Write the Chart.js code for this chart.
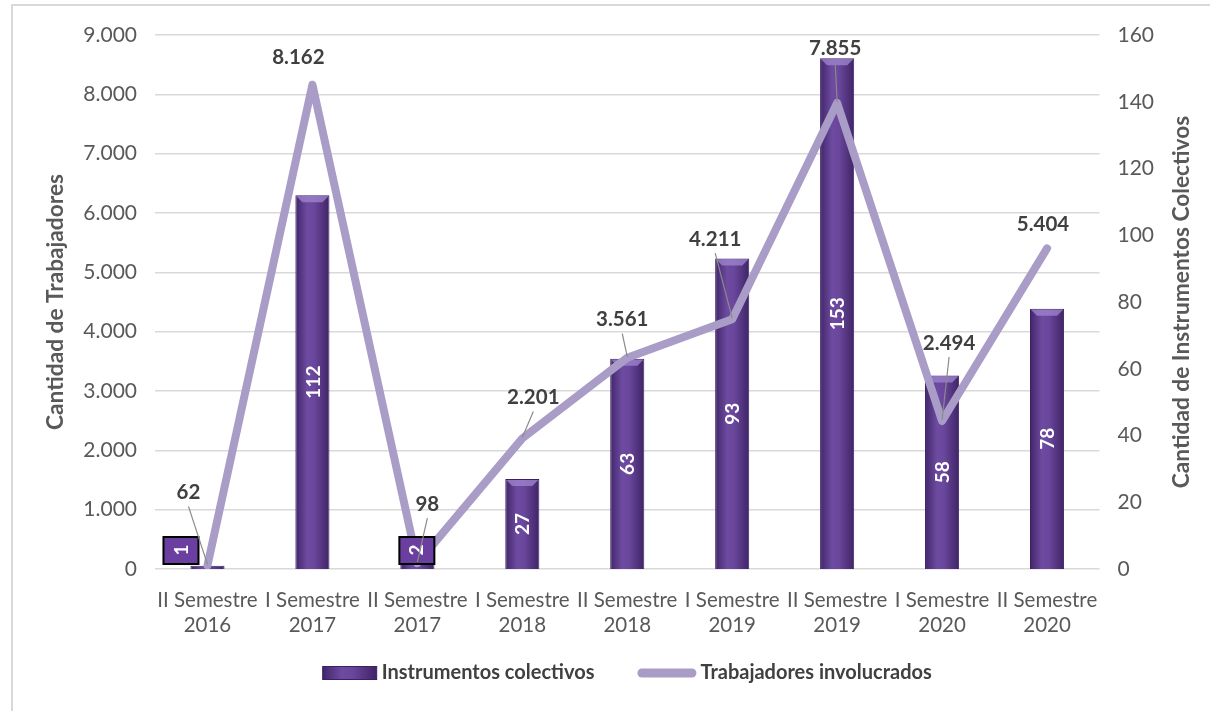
<!DOCTYPE html>
<html>
<head>
<meta charset="utf-8">
<script src="https://cdn.jsdelivr.net/npm/chart.js@4"></script>
<style>
  html, body { margin: 0; padding: 0; background: #fff; overflow: hidden; }
  #wrap { position: relative; width: 1210px; height: 711px; }
  #frame { position: absolute; left: 11px; top: 4px; width: 1300px; height: 800px; border: 2px solid #d9d9d9; }
  canvas { position: absolute; left: 0; top: 0; }
</style>
</head>
<body>
<div id="wrap">
  <div id="frame"></div>
  <canvas id="chart" width="1210" height="711"></canvas>
</div>
<script>
// ===================== DATA =====================
const periodos = [
  ["II Semestre", "2016"], ["I Semestre", "2017"], ["II Semestre", "2017"],
  ["I Semestre", "2018"], ["II Semestre", "2018"], ["I Semestre", "2019"],
  ["II Semestre", "2019"], ["I Semestre", "2020"], ["II Semestre", "2020"]
];
const instrumentos = [1, 112, 2, 27, 63, 93, 153, 58, 78];
const trabajadores = [62, 8162, 98, 2201, 3561, 4211, 7855, 2494, 5404];

const trabajadoresTicks = { max: 9000, step: 1000 };
const instrumentosTicks = { max: 160, step: 20 };

// label placement (offsets from the point, in px)
const lineLabelOffset = [[-19, -73], [-14, -27], [10, -59], [11, -41], [-5, -38], [-17, -80], [-2, -55], [7, -78], [-4, -24]];
const barLabelShift = [-27, 0, -1, 0, 0, 0, 0, 0, 0];

const FONT = 'Lato, "Open Sans", sans-serif';
const BAR_PCT = 0.325;
const GRAY = "#595959";
const DARK = "#404040";
const LINE_COLOR = "#a99dc8";

Chart.defaults.font.family = FONT;

function miles(v) {
  return String(v).replace(/\B(?=(\d{3})+(?!\d))/g, ".");
}

function barGradient(ctx, cx, half) {
  const g = ctx.createLinearGradient(cx - half, 0, cx + half, 0);
  g.addColorStop(0, "#41256a");
  g.addColorStop(0.35, "#6d4ba0");
  g.addColorStop(0.55, "#6a479c");
  g.addColorStop(1, "#3f2466");
  return g;
}

// ===================== LABELS, TITLE, LEGEND =====================
const extras = {
  id: "extras",
  afterDatasetDraw(chart, args) {
    // light bevel on the top of each bar
    if (args.index !== 0) return;
    const ctx = chart.ctx;
    args.meta.data.forEach((el) => {
      const half = el.width / 2;
      const h = el.base - el.y;
      if (h < 10) return;
      const b = Math.min(7, h / 3);
      ctx.save();
      ctx.fillStyle = "rgba(160,135,210,0.75)";
      ctx.beginPath();
      ctx.moveTo(el.x - half + 1, el.y + 1);
      ctx.lineTo(el.x + half - 1, el.y + 1);
      ctx.lineTo(el.x + half - b, el.y + b);
      ctx.lineTo(el.x - half + b, el.y + b);
      ctx.closePath();
      ctx.fill();
      ctx.restore();
    });
  },
  afterDatasetsDraw(chart) {
    const ctx = chart.ctx;
    const barMeta = chart.getDatasetMeta(0);
    const lineMeta = chart.getDatasetMeta(1);

    // bar labels
    barMeta.data.forEach((el, i) => {
      const h = el.base - el.y;
      let cx = el.x, cy = (el.y + el.base) / 2;
      ctx.save();
      if (h < 40) {
        cx = el.x + barLabelShift[i];
        cy = el.base - 19;
        ctx.fillStyle = "#6b3fa0";
        ctx.strokeStyle = "#000";
        ctx.lineWidth = 2;
        ctx.fillRect(cx - 17, cy - 13, 35, 27);
        ctx.strokeRect(cx - 17, cy - 13, 35, 27);
      }
      ctx.translate(cx, cy);
      ctx.rotate(-Math.PI / 2);
      ctx.fillStyle = "#fff";
      ctx.font = "bold 19px " + FONT;
      ctx.textAlign = "center";
      ctx.textBaseline = "middle";
      ctx.fillText(String(instrumentos[i]), 0, 1);
      ctx.restore();
    });

    // line labels with leader lines
    lineMeta.data.forEach((el, i) => {
      const [dx, dy] = lineLabelOffset[i];
      const lx = el.x + dx, ly = el.y + dy;
      ctx.save();
      if (dy < -30) {
        ctx.strokeStyle = "#8a8a8a";
        ctx.lineWidth = 1.2;
        ctx.beginPath();
        ctx.moveTo(lx, ly + 14);
        ctx.lineTo(el.x, el.y - 1);
        ctx.stroke();
      }
      ctx.fillStyle = DARK;
      ctx.font = "bold 20.5px " + FONT;
      ctx.textAlign = "center";
      ctx.textBaseline = "middle";
      ctx.fillText(miles(trabajadores[i]), lx, ly);
      ctx.restore();
    });
  },
  afterDraw(chart) {
    const ctx = chart.ctx;
    const area = chart.chartArea;

    // right axis title, reading bottom to top
    ctx.save();
    ctx.translate(1182, (area.top + area.bottom) / 2);
    ctx.rotate(-Math.PI / 2);
    ctx.fillStyle = GRAY;
    ctx.font = "bold 22.7px " + FONT;
    ctx.textAlign = "center";
    ctx.textBaseline = "middle";
    ctx.fillText("Cantidad de Instrumentos Colectivos", 0, 0);
    ctx.restore();

    // legend, centred under the plot area
    const names = [chart.data.datasets[0].label, chart.data.datasets[1].label];
    ctx.save();
    ctx.font = "bold 20px " + FONT;
    const w1 = ctx.measureText(names[0]).width;
    const w2 = ctx.measureText(names[1]).width;
    const total = 54 + 5 + w1 + 43 + 59 + 4 + w2;
    let x = (area.left + area.right) / 2 - total / 2;
    const y = 673;
    ctx.fillStyle = barGradient(ctx, x + 27, 27);
    ctx.fillRect(x, y - 6.5, 54, 13);
    ctx.strokeStyle = "#3b2163";
    ctx.lineWidth = 1;
    ctx.strokeRect(x, y - 6.5, 54, 13);
    x += 59;
    ctx.fillStyle = DARK;
    ctx.textBaseline = "middle";
    ctx.fillText(names[0], x, y);
    x += w1 + 43;
    ctx.strokeStyle = LINE_COLOR;
    ctx.lineWidth = 9;
    ctx.lineCap = "round";
    ctx.beginPath();
    ctx.moveTo(x + 4.5, y);
    ctx.lineTo(x + 54.5, y);
    ctx.stroke();
    x += 63;
    ctx.fillText(names[1], x, y);
    ctx.restore();
  }
};

// ===================== CHART =====================
const ctx = document.getElementById("chart").getContext("2d");

new Chart(ctx, {
  data: {
    labels: periodos,
    datasets: [
      {
        type: "bar",
        label: "Instrumentos colectivos",
        data: instrumentos,
        yAxisID: "y1",
        order: 1,
        barPercentage: BAR_PCT,
        categoryPercentage: 1,
        borderColor: "#3b2163",
        borderWidth: 1,
        backgroundColor: (c) => {
          const xs = c.chart.scales.x;
          if (!xs || c.dataIndex === undefined) return "#5e3d8e";
          const cx = xs.getPixelForValue(c.dataIndex);
          const half = (xs.width / periodos.length) * BAR_PCT / 2;
          if (!isFinite(cx) || !isFinite(half) || half <= 0) return "#5e3d8e";
          return barGradient(c.chart.ctx, cx, half);
        }
      },
      {
        type: "line",
        label: "Trabajadores involucrados",
        data: trabajadores,
        yAxisID: "y",
        order: 0,
        borderColor: LINE_COLOR,
        borderWidth: 8,
        borderJoinStyle: "round",
        borderCapStyle: "round",
        pointRadius: 0,
        tension: 0,
        fill: false
      }
    ]
  },
  options: {
    responsive: false,
    animation: false,
    devicePixelRatio: 1,
    layout: { padding: { top: 35, bottom: 62, left: 0, right: 0 } },
    plugins: {
      legend: { display: false },
      tooltip: { enabled: false }
    },
    scales: {
      x: {
        offset: true,
        grid: { display: false, drawTicks: false },
        border: { display: false },
        ticks: { color: GRAY, font: { size: 20.5 }, padding: 19, maxRotation: 0, autoSkip: false },
        afterFit: (s) => { s.height = 80; }
      },
      y: {
        position: "left",
        min: 0,
        max: trabajadoresTicks.max,
        ticks: {
          stepSize: trabajadoresTicks.step,
          color: GRAY,
          font: { size: 21 },
          padding: 18,
          callback: (v) => miles(v)
        },
        grid: { color: "#d9d9d9", lineWidth: 1.5, drawTicks: false },
        border: { display: false },
        title: {
          display: true,
          text: "Cantidad de Trabajadores",
          color: GRAY,
          font: { size: 22.7, weight: "bold" },
          padding: { top: 42, bottom: 0 }
        },
        afterFit: (s) => { s.width = 155; }
      },
      y1: {
        position: "right",
        min: 0,
        max: instrumentosTicks.max,
        ticks: { stepSize: instrumentosTicks.step, color: GRAY, font: { size: 21 }, padding: 18 },
        grid: { display: false, drawTicks: false },
        border: { display: false },
        afterFit: (s) => { s.width = 110.5; }
      }
    }
  },
  plugins: [extras]
});
</script>
</body>
</html>
